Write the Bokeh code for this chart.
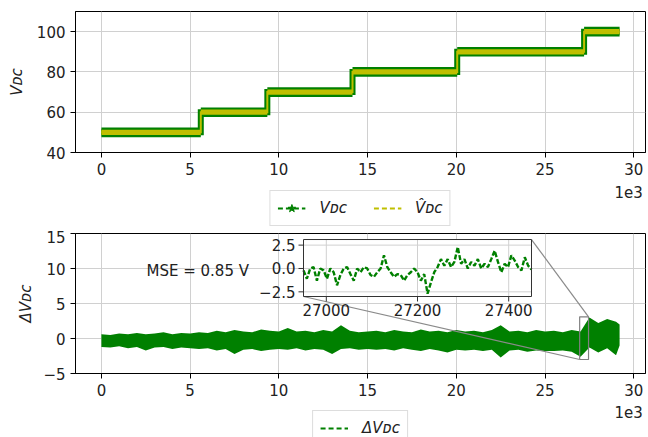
import numpy as np
from bokeh.plotting import figure
from bokeh.models import (Range1d, FixedTicker, CustomJSTickFormatter, Legend,
                          LegendItem, Label)
from bokeh.layouts import column
from bokeh.embed import file_html
from bokeh.resources import INLINE
from bokeh.core.properties import value

FONT = "DejaVu Sans"
GREEN = "#008000"
YELLOW = "#bfbf00"
GRID = "#d0d0d0"
TXT = "#222222"

# ---------------- data ----------------
step_edges = [0, 5600, 9350, 14150, 20050, 27200, 29200]
step_levels = [50, 60, 70, 80, 90, 100]

dv_x = list(range(0, 29001, 500)) + [29200]
dv_upper = [0.6, 0.5, 0.7, 0.6, 0.8, 0.6, 0.7, 0.9, 0.6, 0.8, 0.7,
            0.9, 0.8, 1.1, 0.9, 1.2, 1.0, 0.9, 1.3, 1.1, 1.0,
            1.5, 1.0, 1.1, 0.9, 1.2, 1.0, 1.9, 1.1, 0.9, 1.0,
            1.1, 0.9, 1.2, 1.0, 0.9, 1.3, 1.0, 1.1, 0.9, 1.2,
            1.0, 1.1, 0.9, 1.2, 1.9, 1.0, 1.1, 0.9, 1.2, 1.0,
            1.1, 0.9, 1.2, 1.0,
            3.0, 2.2, 2.8, 2.4,
            2.0]
dv_lower = [-1.2, -1.3, -1.1, -1.4, -1.2, -1.7, -1.3, -1.2, -1.5, -1.3, -1.4,
            -1.5, -1.4, -1.7, -1.5, -2.2, -1.6, -1.5, -1.8, -1.6, -1.5,
            -1.6, -1.4, -1.7, -1.5, -1.6, -2.2, -1.5, -1.4, -1.6, -1.5,
            -1.6, -1.5, -1.7, -1.4, -1.6, -1.8, -1.5, -1.7, -2.0, -1.6,
            -1.7, -1.6, -1.8, -1.6, -2.7, -1.7, -1.6, -1.9, -1.7, -1.8,
            -1.8, -1.7, -1.9, -2.6,
            -1.3, -2.0, -1.4, -2.4,
            -1.0]

inset_xlim = (26950, 27450)
inset_ylim = (-3.0, 3.1)
inset_values = [-0.2, -1.1, 0.0, 0.15, -1.3, 0.0, -0.2, -1.1, 0.0, -0.4,
                -1.8, -0.7, 0.0, 0.15, -0.6, -1.3, 0.0, -0.4, 0.15, 0.0,
                -0.7, -0.9, -0.4, 0.0, 1.4, 0.15, -0.4, -0.9, -0.6, -0.7,
                -1.3, -0.7, -0.4, 0.0, -0.4, -1.3, -0.6, -2.7, -1.5, -0.4,
                0.15, 1.0, 0.3, 1.0, 0.15, 0.7, 2.3, 0.5, 1.0, 0.0,
                0.7, 0.3, 1.0, 0.0, 0.5, 0.15, 1.0, 1.9, 0.7, -0.4,
                0.5, 0.15, 1.4, 0.85, 0.15, -0.2, 1.2, 0.3, -0.1]
inset_x = np.linspace(inset_xlim[0], inset_xlim[1], len(inset_values))

mse_text = "MSE = 0.85 V"
x_ticks = [0, 5000, 10000, 15000, 20000, 25000, 30000]
top_yticks = [40, 60, 80, 100]
bot_yticks = [-5, 0, 5, 10, 15]
inset_xticks = [27000, 27200, 27400]
inset_yticks = [-2.5, 0.0, 2.5]
offset_text = "1e3"

# ---------------- layout constants ----------------
XR = (-1460, 30660)
TOP_YR = (40, 110)
BOT_YR = (-5, 15)
INSET_BOX = (11388, 24236, 6.0, 14.14)  # inset placement in main data coords
OFF = [-1000, -999]  # legend proxy glyphs sit outside the legend strip's view

xfmt = CustomJSTickFormatter(code="return (tick/1000).toFixed(0);")
yfmt = CustomJSTickFormatter(code="return tick < 0 ? '\u2212' + (-tick) : '' + tick;")


def style(p):
    p.background_fill_color = "white"
    p.border_fill_color = "white"
    p.outline_line_color = "black"
    p.outline_line_width = 1
    for g in (p.xgrid, p.ygrid):
        g.grid_line_color = GRID
        g.grid_line_width = 1
    for ax in list(p.xaxis) + list(p.yaxis):
        ax.major_tick_out = 5
        ax.major_tick_in = 0
        ax.minor_tick_out = 0
        ax.minor_tick_in = 0
        ax.axis_line_color = "black"
        ax.major_tick_line_color = "black"
        ax.major_label_text_font = FONT
        ax.major_label_text_font_size = "15px"
        ax.major_label_text_color = TXT
        ax.major_label_standoff = 5
        ax.axis_label_text_font = FONT
        ax.axis_label_text_font_size = "15px"
        ax.axis_label_text_color = TXT
        ax.axis_label_text_font_style = "italic"
    p.xaxis.ticker = FixedTicker(ticks=x_ticks)
    p.xaxis.formatter = xfmt
    p.yaxis.formatter = yfmt


def legend_fig(height, items_fn, margin, offset_y):
    f = figure(width=648, height=height, x_range=Range1d(0, 648), y_range=Range1d(0, height),
               output_backend="svg", toolbar_location=None, x_axis_type=None, y_axis_type=None,
               min_border=0, min_border_left=0, min_border_right=0, min_border_top=0,
               min_border_bottom=0)
    f.outline_line_color = None
    f.grid.visible = False
    f.background_fill_color = "white"
    f.border_fill_color = "white"
    items = items_fn(f)
    lg = Legend(items=items, orientation="horizontal", location="top_center")
    lg.label_text_font = FONT
    lg.label_text_font_size = "15px"
    lg.label_text_font_style = "italic"
    lg.label_text_color = TXT
    lg.glyph_width = 28
    lg.glyph_height = 20
    lg.label_height = 20
    lg.label_standoff = 14
    lg.spacing = 26
    lg.padding = 7
    lg.margin = margin
    lg.border_line_color = "#bbbbbb"
    lg.border_line_width = 1
    lg.background_fill_color = "white"
    lg.background_fill_alpha = 1
    f.add_layout(lg)
    f.add_layout(Label(x=645, y=height - offset_y, text=offset_text, text_align="right",
                       text_baseline="middle", text_font=FONT, text_font_size="15px",
                       text_color=TXT))
    return f


# ---------------- top figure ----------------
p1 = figure(width=648, height=180, x_range=Range1d(*XR), y_range=Range1d(*TOP_YR),
            output_backend="svg", toolbar_location=None,
            min_border_left=75, min_border_right=3, min_border_top=11, min_border_bottom=28)
style(p1)
p1.yaxis.ticker = FixedTicker(ticks=top_yticks)
p1.yaxis.axis_label = "V\u1d05\u1d04"
p1.yaxis.axis_label_standoff = 8

path_x, path_y = [], []
for i, lvl in enumerate(step_levels):
    path_x += [step_edges[i], step_edges[i + 1]]
    path_y += [lvl, lvl]
lv = np.array(step_levels, dtype=float)

p1.quad(left=step_edges[:-1], right=step_edges[1:], bottom=lv - 2.4, top=lv + 2.4,
        fill_color=GREEN, line_color=None)
p1.line(path_x, path_y, line_color=GREEN, line_width=6, line_join="miter")
p1.quad(left=step_edges[:-1], right=step_edges[1:], bottom=lv - 1.3, top=lv + 1.3,
        fill_color=YELLOW, line_color=None)
p1.line(path_x, path_y, line_color=YELLOW, line_width=2, line_join="miter")


def top_items(f):
    lg_line = f.line(x=OFF, y=OFF, line_color=GREEN, line_dash="5 3", line_width=2)
    lg_star = f.scatter(x=OFF[:1], y=OFF[:1], marker="star", size=11, fill_color=GREEN,
                        line_color=GREEN)
    lg_yel = f.line(x=OFF, y=OFF, line_color=YELLOW, line_dash="5 3", line_width=2)
    return [LegendItem(label="V\u1d05\u1d04", renderers=[lg_line, lg_star]),
            LegendItem(label="V\u0302\u1d05\u1d04", renderers=[lg_yel])]


L1 = legend_fig(50, top_items, 10, 11)

# ---------------- bottom figure ----------------
p2 = figure(width=648, height=171, x_range=Range1d(*XR), y_range=Range1d(*BOT_YR),
            output_backend="svg", toolbar_location=None,
            min_border_left=75, min_border_right=3, min_border_top=3, min_border_bottom=28)
style(p2)
p2.yaxis.ticker = FixedTicker(ticks=bot_yticks)
p2.yaxis.axis_label = "\u0394V\u1d05\u1d04"
p2.yaxis.axis_label_standoff = 5

p2.varea(x=dv_x, y1=dv_lower, y2=dv_upper, fill_color=GREEN)

# zoom indicator and connectors (main coordinates)
ix0, ix1 = inset_xlim
iy0, iy1 = inset_ylim
bx0, bx1, by0, by1 = INSET_BOX
p2.quad(left=[ix0], right=[ix1], bottom=[iy0], top=[iy1], fill_color=None,
        line_color="#808080", line_width=1.2)
p2.segment(x0=[bx0, bx1], y0=[by0, by1], x1=[ix0, ix1], y1=[iy0, iy1],
           line_color="#8a8a8a", line_width=1.2)

# inset coordinate system mapped onto INSET_BOX
sx = (ix1 - ix0) / (bx1 - bx0)
sy = (iy1 - iy0) / (by1 - by0)
p2.extra_x_ranges = {"ix": Range1d(ix0 - (bx0 - XR[0]) * sx, ix1 + (XR[1] - bx1) * sx)}
p2.extra_y_ranges = {"iy": Range1d(iy0 - (by0 - BOT_YR[0]) * sy, iy1 + (BOT_YR[1] - by1) * sy)}
ipx = (ix1 - ix0) / 228.0   # inset units per screen px
ipy = (iy1 - iy0) / 57.0
kw = dict(x_range_name="ix", y_range_name="iy")

p2.quad(left=[ix0], right=[ix1], bottom=[iy0], top=[iy1], fill_color="white",
        line_color=None, **kw)
p2.segment(x0=inset_xticks, y0=[iy0] * 3, x1=inset_xticks, y1=[iy1] * 3,
           line_color=GRID, line_width=1, **kw)
p2.segment(x0=[ix0] * 3, y0=inset_yticks, x1=[ix1] * 3, y1=inset_yticks,
           line_color=GRID, line_width=1, **kw)
p2.line(inset_x, inset_values, line_color=GREEN, line_width=2.4, line_dash="5 2", **kw)
p2.quad(left=[ix0], right=[ix1], bottom=[iy0], top=[iy1], fill_color=None,
        line_color="#333333", line_width=1, **kw)
p2.segment(x0=[ix0 - 5 * ipx] * 3, y0=inset_yticks, x1=[ix0] * 3, y1=inset_yticks,
           line_color="#333333", line_width=1, **kw)
p2.segment(x0=inset_xticks, y0=[iy0 - 5 * ipy] * 3, x1=inset_xticks, y1=[iy0] * 3,
           line_color="#333333", line_width=1, **kw)
ylabels = [("\u2212" if t < 0 else "") + "%.1f" % abs(t) for t in inset_yticks]
p2.text(x=[ix0 - 8 * ipx] * 3, y=inset_yticks, text=ylabels, text_align="right",
        text_baseline="middle", text_font=value(FONT), text_font_size="15px",
        text_color=TXT, **kw)
p2.text(x=inset_xticks, y=[iy0 - 8 * ipy] * 3, text=[str(t) for t in inset_xticks],
        text_align="center", text_baseline="top", text_font=value(FONT),
        text_font_size="15px", text_color=TXT, **kw)

p2.add_layout(Label(x=2541, y=9.7, text=mse_text, text_baseline="middle",
                    text_font=FONT, text_font_size="15px", text_color=TXT))


def bot_items(f):
    lg_dv = f.line(x=OFF, y=OFF, line_color=GREEN, line_dash="5 3", line_width=2)
    return [LegendItem(label="\u0394V\u1d05\u1d04", renderers=[lg_dv])]


L2 = legend_fig(36, bot_items, 9, 10)

layout = column(p1, L1, p2, L2, spacing=0)
open("out.html", "w").write(file_html(layout, INLINE))
